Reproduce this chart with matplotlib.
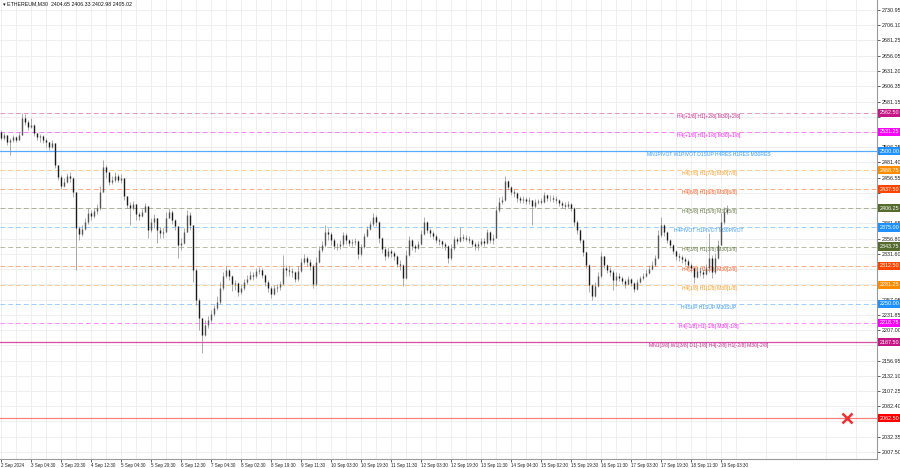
import matplotlib
matplotlib.use('Agg')
import matplotlib.pyplot as plt
import matplotlib.transforms as mtransforms
import numpy as np

plt.rcParams['font.family'] = ['Liberation Sans', 'DejaVu Sans']

title = "\u25BE ETHEREUM,M30  2404.65 2406.33 2402.98 2405.02"

open0 = 2531
closes = [2521, 2526, 2515, 2518, 2523, 2518, 2526, 2554, 2548, 2539,
          2543, 2530, 2523, 2525, 2518, 2515, 2507, 2513, 2477, 2458,
          2443, 2449, 2459, 2456, 2433, 2374, 2364, 2372, 2384, 2399,
          2394, 2402, 2407, 2433, 2474, 2466, 2449, 2453, 2459, 2453,
          2456, 2426, 2412, 2407, 2413, 2397, 2394, 2400, 2410, 2371,
          2384, 2390, 2371, 2366, 2368, 2390, 2400, 2387, 2377, 2346,
          2350, 2368, 2395, 2379, 2305, 2256, 2227, 2199, 2215, 2223,
          2233, 2243, 2253, 2276, 2295, 2305, 2295, 2282, 2284, 2269,
          2276, 2286, 2291, 2297, 2295, 2304, 2305, 2297, 2286, 2276,
          2266, 2276, 2277, 2282, 2309, 2305, 2304, 2302, 2291, 2304,
          2318, 2325, 2318, 2312, 2282, 2318, 2338, 2346, 2368, 2364,
          2354, 2345, 2345, 2348, 2363, 2354, 2350, 2351, 2353, 2332,
          2343, 2361, 2372, 2381, 2392, 2384, 2358, 2340, 2328, 2336,
          2333, 2328, 2315, 2313, 2292, 2330, 2354, 2345, 2341, 2348,
          2364, 2384, 2371, 2366, 2361, 2354, 2353, 2348, 2345, 2325,
          2341, 2356, 2353, 2359, 2358, 2356, 2354, 2348, 2345, 2348,
          2353, 2350, 2368, 2354, 2358, 2404, 2417, 2420, 2451, 2441,
          2433, 2431, 2423, 2420, 2422, 2418, 2420, 2410, 2417, 2418,
          2417, 2428, 2423, 2423, 2422, 2420, 2415, 2412, 2410, 2413,
          2407, 2384, 2371, 2354, 2335, 2313, 2281, 2263, 2279, 2295,
          2328, 2313, 2305, 2302, 2289, 2295, 2292, 2287, 2282, 2291,
          2284, 2274, 2286, 2292, 2295, 2300, 2307, 2313, 2325, 2363,
          2379, 2368, 2354, 2346, 2336, 2328, 2327, 2323, 2320, 2313,
          2309, 2294, 2304, 2302, 2299, 2309, 2325, 2302, 2325, 2346,
          2384, 2400, 2405]

highs = [2535, 2530, 2523, 2521, 2526, 2525, 2531, 2562, 2561, 2551,
         2554, 2544, 2530, 2528, 2526, 2521, 2515, 2518, 2513, 2477,
         2461, 2456, 2464, 2466, 2458, 2433, 2377, 2379, 2390, 2407,
         2404, 2407, 2413, 2443, 2485, 2477, 2466, 2459, 2466, 2462,
         2462, 2456, 2426, 2417, 2418, 2413, 2400, 2405, 2415, 2410,
         2390, 2397, 2390, 2376, 2374, 2400, 2407, 2404, 2389, 2377,
         2358, 2374, 2404, 2400, 2379, 2309, 2259, 2227, 2223, 2230,
         2240, 2248, 2263, 2286, 2302, 2312, 2307, 2297, 2289, 2286,
         2282, 2291, 2297, 2304, 2302, 2309, 2310, 2309, 2299, 2289,
         2279, 2281, 2282, 2287, 2330, 2313, 2312, 2309, 2304, 2312,
         2325, 2332, 2328, 2323, 2315, 2327, 2345, 2353, 2379, 2374,
         2368, 2358, 2350, 2354, 2368, 2366, 2356, 2356, 2358, 2354,
         2348, 2366, 2377, 2386, 2399, 2395, 2386, 2359, 2343, 2343,
         2340, 2336, 2330, 2322, 2315, 2338, 2361, 2356, 2348, 2353,
         2371, 2392, 2386, 2374, 2369, 2364, 2358, 2354, 2351, 2346,
         2348, 2361, 2359, 2376, 2364, 2363, 2361, 2356, 2351, 2353,
         2358, 2358, 2372, 2369, 2364, 2410, 2425, 2426, 2459, 2453,
         2443, 2438, 2433, 2426, 2426, 2425, 2425, 2420, 2422, 2422,
         2423, 2433, 2430, 2428, 2428, 2426, 2422, 2418, 2417, 2418,
         2415, 2408, 2387, 2372, 2356, 2336, 2315, 2282, 2286, 2302,
         2335, 2328, 2315, 2310, 2305, 2302, 2300, 2295, 2291, 2295,
         2292, 2286, 2291, 2295, 2300, 2307, 2313, 2320, 2330, 2371,
         2392, 2381, 2369, 2356, 2348, 2338, 2333, 2330, 2327, 2323,
         2317, 2310, 2310, 2309, 2307, 2315, 2366, 2330, 2333, 2354,
         2399, 2408, 2412]

lows = [2518, 2518, 2510, 2494, 2515, 2515, 2518, 2526, 2543, 2535,
        2538, 2525, 2518, 2515, 2513, 2507, 2502, 2505, 2472, 2453,
        2438, 2441, 2448, 2449, 2425, 2305, 2354, 2361, 2371, 2381,
        2387, 2390, 2397, 2404, 2433, 2456, 2444, 2446, 2449, 2449,
        2448, 2420, 2407, 2379, 2404, 2387, 2387, 2392, 2400, 2358,
        2368, 2374, 2350, 2358, 2358, 2368, 2390, 2381, 2371, 2325,
        2338, 2348, 2368, 2371, 2286, 2248, 2207, 2169, 2197, 2210,
        2220, 2230, 2240, 2250, 2273, 2292, 2289, 2271, 2273, 2263,
        2266, 2273, 2282, 2289, 2289, 2292, 2299, 2292, 2279, 2269,
        2259, 2264, 2269, 2273, 2282, 2295, 2295, 2294, 2286, 2287,
        2302, 2315, 2312, 2305, 2276, 2279, 2317, 2335, 2343, 2354,
        2346, 2340, 2338, 2340, 2345, 2348, 2345, 2345, 2346, 2323,
        2328, 2341, 2359, 2371, 2377, 2377, 2350, 2333, 2322, 2325,
        2327, 2322, 2310, 2305, 2279, 2291, 2328, 2338, 2335, 2340,
        2346, 2363, 2366, 2359, 2356, 2350, 2346, 2341, 2338, 2317,
        2322, 2338, 2348, 2351, 2353, 2353, 2350, 2343, 2338, 2338,
        2345, 2345, 2348, 2350, 2348, 2358, 2400, 2413, 2418, 2436,
        2428, 2425, 2417, 2415, 2415, 2413, 2413, 2379, 2407, 2413,
        2413, 2415, 2418, 2418, 2417, 2415, 2410, 2407, 2405, 2407,
        2402, 2377, 2364, 2350, 2328, 2309, 2269, 2256, 2261, 2277,
        2292, 2309, 2300, 2295, 2273, 2279, 2287, 2282, 2276, 2281,
        2279, 2269, 2273, 2284, 2289, 2294, 2299, 2305, 2312, 2323,
        2359, 2361, 2350, 2341, 2332, 2322, 2320, 2317, 2313, 2309,
        2302, 2284, 2292, 2295, 2292, 2297, 2302, 2292, 2299, 2323,
        2346, 2381, 2397]

x_labels = ['2 Sep 2024', '3 Sep 04:30', '3 Sep 20:30', '4 Sep 12:30', '5 Sep 04:30',
            '5 Sep 20:30', '6 Sep 12:30', '7 Sep 04:30', '8 Sep 02:30', '8 Sep 19:30',
            '9 Sep 11:30', '10 Sep 03:30', '10 Sep 19:30', '11 Sep 11:30', '12 Sep 03:30',
            '12 Sep 19:30', '13 Sep 11:30', '14 Sep 04:30', '15 Sep 02:30', '15 Sep 19:30',
            '16 Sep 11:30', '17 Sep 03:30', '17 Sep 19:30', '18 Sep 11:30', '19 Sep 03:30']

y_ticks = [2730.95, 2706.10, 2681.25, 2656.05, 2631.20, 2606.35, 2581.15, 2556.30,
           2531.45, 2506.25, 2481.40, 2456.55, 2431.70, 2406.50, 2381.65, 2356.80,
           2331.60, 2306.75, 2281.90, 2257.05, 2231.85, 2207.00, 2182.15, 2156.95,
           2132.10, 2107.25, 2082.40, 2057.55, 2032.35, 2007.50]
# tick labels covered by the level boxes in the reference
hidden_ticks = [2556.30, 2531.45, 2431.70, 2406.50, 2306.75, 2281.90, 2182.15, 2057.55]

levels = [2562.50, 2531.25, 2500.00, 2468.75, 2437.50, 2406.25, 2375.00,
          2343.75, 2312.50, 2281.25, 2250.00, 2218.75, 2187.50, 2062.50]
level_texts = ["H4[+2/8] H1[+2/8] M30[+2/8]",
               "H4[+1/8] H1[+1/8] M30[+1/8]",
               "MN1PIVOT W1PIVOT D1SUP H4RES H1RES M30RES",
               "H4[7/8] H1[7/8] M30[7/8]",
               "H4[6/8] H1[6/8] M30[6/8]",
               "H4[5/8] H1[5/8] M30[5/8]",
               "H4PIVOT H1PIVOT M30PIVOT",
               "H4[3/8] H1[3/8] M30[3/8]",
               "H4[2/8] H1[2/8] M30[2/8]",
               "H4[1/8] H1[1/8] M30[1/8]",
               "H4SUP H1SUP M30SUP",
               "H4[-1/8] H1[-1/8] M30[-1/8]",
               "MN1[3/8] W1[3/8] D1[-1/8] H4[-2/8] H1[-2/8] M30[-2/8]",
               ""]
level_colors = ['#C71585', '#FF00FF', '#1E90FF', '#FF8C00', '#FF4500', '#556B2F',
                '#1E90FF', '#556B2F', '#FF4500', '#FF8C00', '#1E90FF', '#FF00FF',
                '#C71585', '#FF0000']
level_solid = [False, False, True, False, False, False, False,
               False, False, False, False, False, True, True]

alert_bar = 282
alert_price = 2062.50

# ---------------------------------------------------------------
fig = plt.figure(figsize=(9, 4.68), dpi=100)
ax = fig.add_axes([0, 1 - 459 / 468, 877 / 900, 459 / 468])
ax.set_xlim(-1 / 3, 292)
ax.set_ylim(1996.0, 2747.3)

n = len(closes)
x = np.arange(n)
c = np.array(closes, float)
o = np.array([open0] + closes[:-1], float)
h = np.maximum(np.array(highs, float), np.maximum(o, c))
l = np.minimum(np.array(lows, float), np.minimum(o, c))

# axes, ticks, grid
ax.set_yticks(y_ticks)
ax.set_yticklabels(['' if v in hidden_ticks else f'{v:.2f}' for v in y_ticks])
ax.set_xticks(np.arange(0, 10 * len(x_labels), 10))
ax.set_xticklabels(x_labels)
ax.set_xticks(np.arange(5, 10 * len(x_labels) + 40, 10), minor=True)
ax.grid(True, which='both', color='#ececec', lw=0.6)
ax.set_axisbelow(True)
ax.yaxis.tick_right()
ax.tick_params(axis='y', which='major', length=2, pad=1.5, labelsize=3.9,
               colors='#222222', width=0.5)
ax.tick_params(axis='x', which='major', length=2, pad=1.2, labelsize=3.25,
               colors='#222222', width=0.5)
ax.tick_params(axis='x', which='minor', length=0)
for t in ax.get_xticklabels():
    t.set_ha('left')
for s in ['top', 'left']:
    ax.spines[s].set_visible(False)
for s in ['right', 'bottom']:
    ax.spines[s].set_color('#9a9a9a')
    ax.spines[s].set_linewidth(0.8)

# level lines with their labels and price boxes
trans = mtransforms.blended_transform_factory(ax.transAxes, ax.transData)
for lev, txt, col, solid in zip(levels, level_texts, level_colors, level_solid):
    if solid:
        alpha = 0.75 if lev != 2062.50 else 0.5
        ax.axhline(lev, color=col, lw=0.9, alpha=alpha, zorder=1)
    else:
        ax.axhline(lev, color=col, lw=0.7, alpha=0.45, ls=(0, (5, 3)), zorder=1)
    if txt:
        ax.text(236, lev - 1.5, txt, color=col, fontsize=3.6, ha='center',
                va='top', zorder=3, alpha=0.9)
    ax.text(1.0 + 3 / 877, lev, f'{lev:.2f}', transform=trans, color='white',
            fontsize=3.9, ha='left', va='center', zorder=10, clip_on=False,
            bbox=dict(boxstyle='square,pad=0.3', fc=col, ec='none'))

# candles
up = c >= o
ax.vlines(x, l, h, color='#8a8a8a', lw=0.5, zorder=4)
ax.vlines(x[up], o[up], c[up], color='#555555', lw=1.0, zorder=5)
ax.vlines(x[~up], o[~up], c[~up], color='#1a1a1a', lw=1.0, zorder=5)

# alert marker
ax.plot([alert_bar], [alert_price], marker='x', color='#F03030', ms=6.5,
        mew=1.8, zorder=6)

fig.text(3 / 900, 1 - 4 / 468, title, fontsize=3.8, ha='left', va='center',
         color='#111111')

fig.savefig('out.png', dpi=100)
